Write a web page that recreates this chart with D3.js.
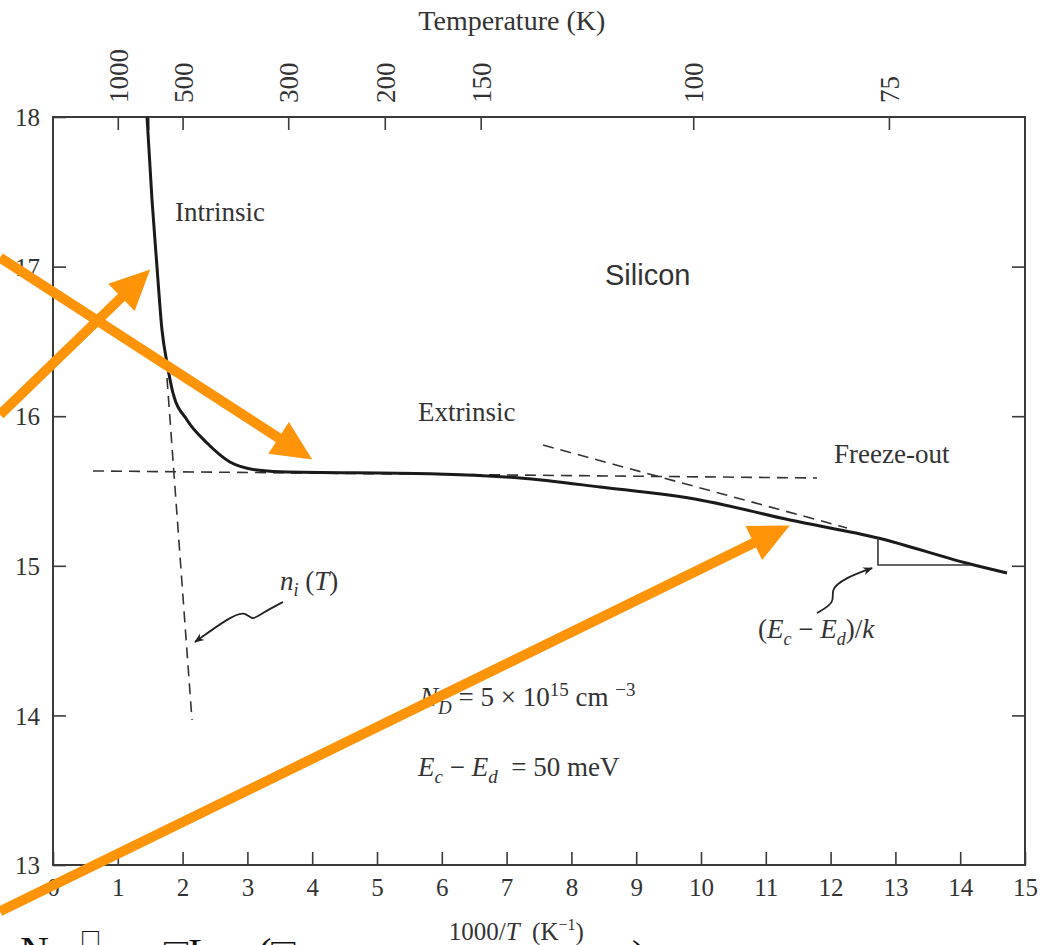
<!DOCTYPE html>
<html>
<head>
<meta charset="utf-8">
<title>Silicon n vs 1000/T</title>
<script src="https://d3js.org/d3.v7.min.js"></script>
<style>
  body { margin: 0; padding: 0; background: #fff; }
  text { font-family: "Liberation Serif", "DejaVu Serif", serif; fill: #333; }
</style>
</head>
<body>
<div id="chart"></div>
<script>
// --- data (x = 1000/T in K^-1, y = log10 n) ---
var curveX = [1.451, 1.528, 1.605, 1.682, 1.759, 1.852, 2.068, 2.377, 2.731, 3.148, 3.503, 5.818, 7.207, 8.441, 9.985, 11.373, 12.731, 14.151, 14.722];
var curveY = [18.0, 17.445, 16.997, 16.576, 16.356, 16.155, 15.975, 15.821, 15.694, 15.640, 15.629, 15.616, 15.587, 15.527, 15.440, 15.306, 15.186, 15.012, 14.952];

// dashed guide lines: [x0, y0, x1, y1]
var niLine = [1.759, 16.255, 2.145, 13.969];
var ndLine = [0.617, 15.634, 11.79, 15.587];
var freezeLine = [7.562, 15.807, 12.253, 15.253];
// slope triangle
var triX = [12.731, 12.731, 14.151];
var triY = [15.186, 15.005, 15.005];

var xTicks = d3.range(0, 16);
var yTicks = [13, 14, 15, 16, 17, 18];
var topTickPos = [1.0, 1.47, 2.0, 3.63, 5.12, 6.6, 9.88, 12.9];
var topTickLabels = ["1000", "", "500", "300", "200", "150", "100", "75"];

// wavy pointers
var niPointerX = [3.549, 3.225, 3.071, 2.963, 2.731, 2.191];
var niPointerY = [14.758, 14.684, 14.631, 14.698, 14.658, 14.491];
var egPointerX = [11.79, 12.08, 11.99, 12.22, 12.64];
var egPointerY = [14.684, 14.758, 14.838, 14.918, 14.985];

// orange overlay arrows: [xStart, yStart, xTip, yTip]
var orangeArrows = [
  [-0.818, 17.06, 4.0, 15.71],
  [-0.818, 16.01, 1.50, 16.98],
  [-0.818, 12.69, 11.37, 15.27]
];

var W = 1042, H = 945;
var m = { left: 53, right: 17, top: 117, bottom: 80 };

var svg = d3.select("#chart").append("svg")
  .attr("width", W).attr("height", H);

var x = d3.scaleLinear().domain([0, 15]).range([m.left, W - m.right]);
var y = d3.scaleLinear().domain([13, 18]).range([H - m.bottom, m.top]);

var defs = svg.append("defs");
defs.append("marker")
  .attr("id", "head")
  .attr("viewBox", "0 0 10 10")
  .attr("refX", 9).attr("refY", 5)
  .attr("markerWidth", 16).attr("markerHeight", 10)
  .attr("markerUnits", "userSpaceOnUse")
  .attr("orient", "auto")
  .append("path").attr("d", "M0,1 L10,5 L0,9 L3,5 Z").attr("fill", "#222");

// axes (ticks point inward)
var axisColor = "#3a3a3a";
function styleAxis(g) {
  g.select(".domain").remove();
  g.selectAll(".tick line").attr("stroke", axisColor).attr("stroke-width", 1.6);
  g.selectAll(".tick text").style("font-family", "Liberation Serif").style("fill", "#333");
}

svg.append("g")
  .attr("transform", "translate(0," + y(13) + ")")
  .call(d3.axisBottom(x).tickValues(xTicks).tickSizeInner(-13).tickSizeOuter(0).tickPadding(13).tickFormat(d3.format("d")))
  .call(styleAxis)
  .selectAll(".tick text").style("font-size", "25px");

svg.append("g")
  .attr("transform", "translate(" + x(0) + ",0)")
  .call(d3.axisLeft(y).tickValues(yTicks).tickSizeInner(-13).tickSizeOuter(0).tickPadding(13).tickFormat(d3.format("d")))
  .call(styleAxis)
  .selectAll(".tick text").style("font-size", "25px").attr("dy", "0.35em");

svg.append("g")
  .attr("transform", "translate(" + x(15) + ",0)")
  .call(d3.axisRight(y).tickValues(yTicks.slice(1, 5)).tickSizeInner(-13).tickSizeOuter(0).tickFormat(""))
  .call(styleAxis);

var topAxis = svg.append("g")
  .attr("transform", "translate(0," + y(18) + ")")
  .call(d3.axisTop(x).tickValues(topTickPos).tickSizeInner(-13).tickSizeOuter(0).tickFormat(function (d, i) { return topTickLabels[i]; }))
  .call(styleAxis);
topAxis.selectAll(".tick text")
  .attr("transform", "rotate(-90)")
  .attr("x", 14).attr("y", 0).attr("dy", "0.35em")
  .attr("text-anchor", "start")
  .style("font-size", "27px");

// frame
svg.append("rect")
  .attr("x", x(0)).attr("y", y(18))
  .attr("width", x(15) - x(0)).attr("height", y(13) - y(18))
  .attr("fill", "none").attr("stroke", axisColor).attr("stroke-width", 2);

// axis titles
svg.append("text")
  .attr("x", x(7.08)).attr("y", 30)
  .attr("text-anchor", "middle").style("font-size", "28px")
  .text("Temperature (K)");

var xt = svg.append("text")
  .attr("x", x(7.15)).attr("y", 940)
  .attr("text-anchor", "middle").style("font-size", "25px");
xt.append("tspan").text("1000/");
xt.append("tspan").style("font-style", "italic").text("T");
xt.append("tspan").text("\u00a0\u00a0(K");
xt.append("tspan").attr("dy", -10).style("font-size", "16px").text("−1");
xt.append("tspan").attr("dy", 10).text(")");

// dashed guides
function seg(s) {
  return svg.append("line")
    .attr("x1", x(s[0])).attr("y1", y(s[1]))
    .attr("x2", x(s[2])).attr("y2", y(s[3]))
    .attr("stroke", "#333").attr("stroke-width", 1.6)
    .attr("stroke-dasharray", "11,7");
}
seg(niLine);
seg(ndLine);
seg(freezeLine);

// main curve
var pts = curveX.map(function (d, i) { return [d, curveY[i]]; });
var line = d3.line().x(function (d) { return x(d[0]); }).y(function (d) { return y(d[1]); })
  .curve(d3.curveMonotoneX);
svg.append("path")
  .datum(pts)
  .attr("d", line)
  .attr("fill", "none").attr("stroke", "#1a1a1a").attr("stroke-width", 3);

// slope triangle
svg.append("path")
  .datum(triX.map(function (d, i) { return [d, triY[i]]; }))
  .attr("d", d3.line().x(function (d) { return x(d[0]); }).y(function (d) { return y(d[1]); }))
  .attr("fill", "none").attr("stroke", "#333").attr("stroke-width", 1.6);

// wavy pointers
var wavy = d3.line().x(function (d) { return x(d[0]); }).y(function (d) { return y(d[1]); })
  .curve(d3.curveBasis);
svg.append("path")
  .datum(niPointerX.map(function (d, i) { return [d, niPointerY[i]]; }))
  .attr("d", wavy).attr("fill", "none").attr("stroke", "#222").attr("stroke-width", 1.8)
  .attr("marker-end", "url(#head)");
svg.append("path")
  .datum(egPointerX.map(function (d, i) { return [d, egPointerY[i]]; }))
  .attr("d", wavy).attr("fill", "none").attr("stroke", "#222").attr("stroke-width", 1.8)
  .attr("marker-end", "url(#head)");

// labels
function label(px, py, size, fam) {
  return svg.append("text").attr("x", x(px)).attr("y", y(py))
    .style("font-size", size + "px").style("font-family", fam || "Liberation Serif");
}
label(1.883, 17.305, 27).text("Intrinsic");
label(8.519, 16.877, 29, "Liberation Sans").text("Silicon");
label(5.633, 15.968, 27).text("Extrinsic");
label(12.052, 15.687, 27).text("Freeze-out");

var ni = label(3.503, 14.838, 27).style("font-style", "italic");
ni.append("tspan").text("n");
ni.append("tspan").attr("dy", 6).style("font-size", "18px").text("i");
ni.append("tspan").attr("dy", -6).style("font-style", "normal").text("\u00a0(");
ni.append("tspan").text("T");
ni.append("tspan").style("font-style", "normal").text(")");

var eg = label(10.88, 14.517, 27).style("font-style", "italic");
eg.append("tspan").style("font-style", "normal").text("(");
eg.append("tspan").text("E");
eg.append("tspan").attr("dy", 7).style("font-size", "18px").text("c");
eg.append("tspan").attr("dy", -7).style("font-style", "normal").text("\u00a0−\u00a0");
eg.append("tspan").text("E");
eg.append("tspan").attr("dy", 7).style("font-size", "18px").text("d");
eg.append("tspan").attr("dy", -7).style("font-style", "normal").text(")/");
eg.append("tspan").text("k");

var nd = label(5.664, 14.063, 27);
nd.append("tspan").style("font-style", "italic").text("N");
nd.append("tspan").attr("dy", 8).style("font-size", "19px").style("font-style", "italic").text("D");
nd.append("tspan").attr("dy", -8).text("\u00a0= 5 × 10");
nd.append("tspan").attr("dy", -10).style("font-size", "19px").text("15");
nd.append("tspan").attr("dy", 10).text("\u00a0cm\u00a0");
nd.append("tspan").attr("dy", -10).style("font-size", "19px").text("−3");

var ed = label(5.633, 13.595, 27);
ed.append("tspan").style("font-style", "italic").text("E");
ed.append("tspan").attr("dy", 7).style("font-size", "19px").style("font-style", "italic").text("c");
ed.append("tspan").attr("dy", -7).text("\u00a0−\u00a0");
ed.append("tspan").style("font-style", "italic").text("E");
ed.append("tspan").attr("dy", 7).style("font-size", "19px").style("font-style", "italic").text("d");
ed.append("tspan").attr("dy", -7).text("\u00a0\u00a0= 50 meV");

// orange overlay arrows
var orange = "#ff9408";
orangeArrows.forEach(function (a) {
  var x0 = x(a[0]), y0 = y(a[1]), x1 = x(a[2]), y1 = y(a[3]);
  var ang = Math.atan2(y1 - y0, x1 - x0);
  var len = 40, half = 19;
  var bx = x1 - len * Math.cos(ang), by = y1 - len * Math.sin(ang);
  svg.append("line")
    .attr("x1", x0).attr("y1", y0).attr("x2", bx + 2 * Math.cos(ang)).attr("y2", by + 2 * Math.sin(ang))
    .attr("stroke", orange).attr("stroke-width", 10);
  svg.append("polygon")
    .attr("points", [
      [x1, y1],
      [bx - half * Math.sin(ang), by + half * Math.cos(ang)],
      [bx + half * Math.sin(ang), by - half * Math.cos(ang)]
    ].map(function (p) { return p.join(","); }).join(" "))
    .attr("fill", orange);
});

// cut-off formula text at the bottom edge (cropped in the original too)
var cut = svg.append("g").style("font-size", "40px");
cut.append("text").attr("x", 20).attr("y", 964).style("fill", "#111").text("N");
cut.append("text").attr("x", 82).attr("y", 948).style("font-size", "28px").style("fill", "#111").text("□");
cut.append("text").attr("x", 164).attr("y", 966).style("fill", "#111").text("□L");
cut.append("text").attr("x", 258).attr("y", 966).style("fill", "#111").text("(□");
cut.append("text").attr("x", 632).attr("y", 968).style("fill", "#111").text(")");
</script>
</body>
</html>
